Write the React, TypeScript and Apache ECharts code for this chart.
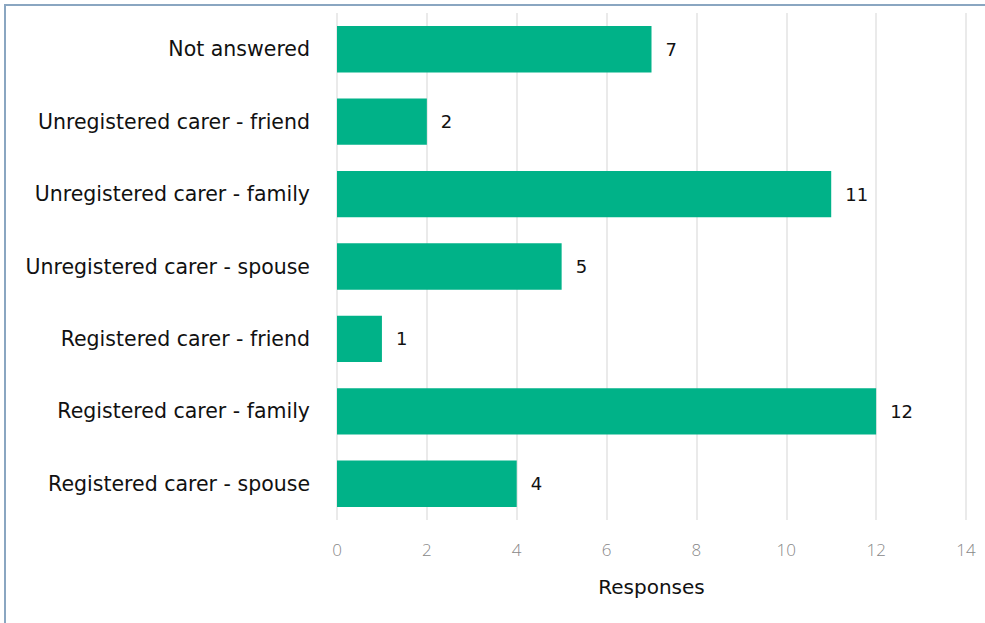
import React, { useEffect, useRef } from "react";
import * as echarts from "echarts";

const categories = [
  "Registered carer - spouse",
  "Registered carer - family",
  "Registered carer - friend",
  "Unregistered carer - spouse",
  "Unregistered carer - family",
  "Unregistered carer - friend",
  "Not answered",
];
const responses = [4, 12, 1, 5, 11, 2, 7];
const axisName = "Responses";

const LABEL_FONT = "DejaVu Sans";

export default function App() {
  const ref = useRef<HTMLDivElement>(null);
  useEffect(() => {
    if (!ref.current) return;
    const chart = echarts.init(ref.current, undefined, { renderer: "svg" });
    chart.setOption({
      animation: false,
      grid: { left: 337, right: 19, top: 13, bottom: 103, containLabel: false },
      xAxis: {
        type: "value",
        min: 0,
        max: 14,
        interval: 2,
        name: axisName,
        nameLocation: "middle",
        nameGap: 57,
        nameTextStyle: { fontFamily: LABEL_FONT, fontSize: 20, color: "#111" },
        axisLine: { show: false },
        axisTick: { show: false },
        axisLabel: { margin: 21, fontFamily: "Open Sans", fontSize: 17, fontWeight: 300, color: "#888888" },
        splitLine: { show: true, lineStyle: { color: "#e3e3e3", width: 1.5 } },
      },
      yAxis: {
        type: "category",
        data: categories,
        axisLine: { show: false },
        axisTick: { show: false },
        axisLabel: { margin: 27, fontFamily: LABEL_FONT, fontSize: 20.5, color: "#111" },
      },
      series: [
        {
          type: "bar",
          data: responses,
          barCategoryGap: "36%",
          itemStyle: { color: "#00b288" },
          label: {
            show: true,
            position: "right",
            distance: 14,
            fontFamily: LABEL_FONT,
            fontSize: 18,
            color: "#111",
          },
        },
      ],
    });
    return () => chart.dispose();
  }, []);
  return (
    <div style={{ position: "absolute", left: 0, top: 0, width: 985, height: 623, background: "#fff" }}>
      <div
        style={{
          position: "absolute",
          left: 4,
          top: 4,
          width: 981,
          height: 619,
          borderTop: "2px solid #8aa6c1",
          borderLeft: "2px solid #8aa6c1",
          boxSizing: "border-box",
        }}
      />
      <div ref={ref} style={{ position: "absolute", left: 0, top: 0, width: 985, height: 623 }} />
    </div>
  );
}
